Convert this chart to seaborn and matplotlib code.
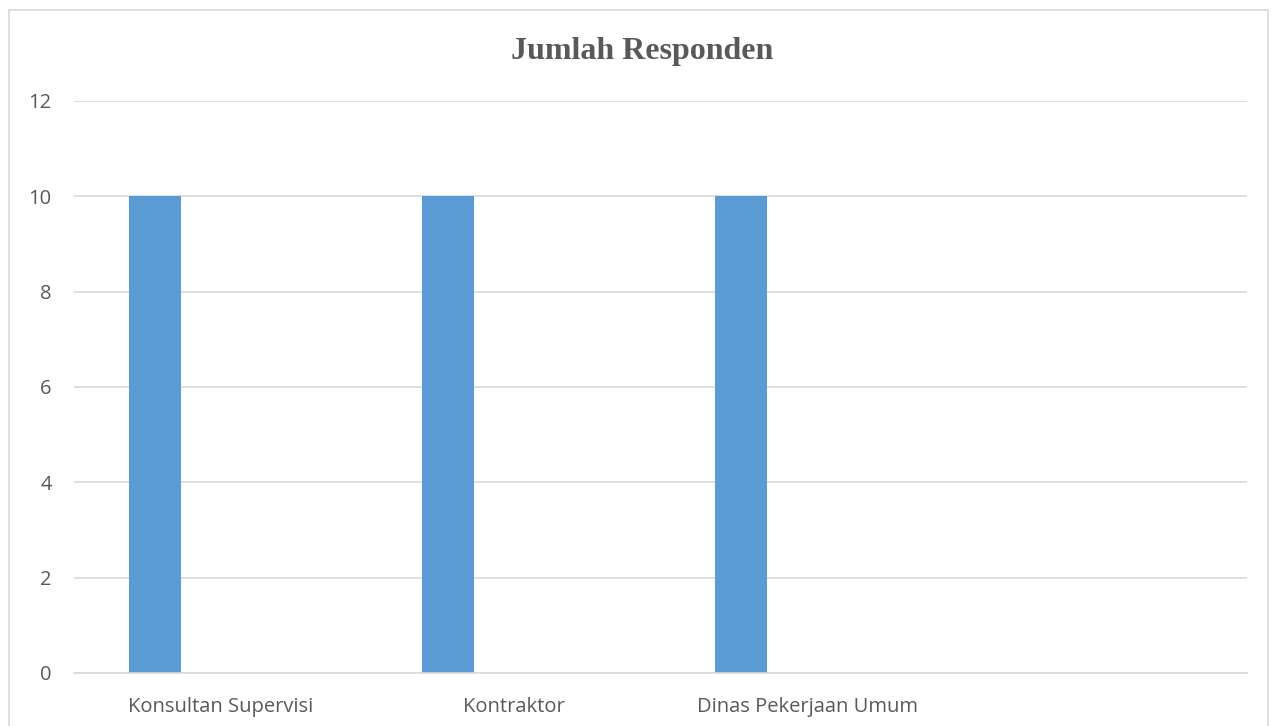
import numpy as np
import pandas as pd
import matplotlib
matplotlib.use("Agg")
import matplotlib.pyplot as plt
from matplotlib.patches import Rectangle
import seaborn as sns

# ---- data ----
categories = ["Konsultan Supervisi", "Kontraktor", "Dinas Pekerjaan Umum", ""]
series_names = ["Jumlah Responden", "Seri 2", "Seri 3"]
values_s1 = [10, 10, 10, 0]
values_s2 = [0, 0, 0, 0]
values_s3 = [0, 0, 0, 0]
y_ticks = [0, 2, 4, 6, 8, 10, 12]
title = "Jumlah Responden"

rows = []
for name, vals in zip(series_names, [values_s1, values_s2, values_s3]):
    for c, v in zip(categories, vals):
        rows.append({"cat": c, "series": name, "val": v})
df = pd.DataFrame(rows)

sns.set_theme(style="white")
plt.rcParams["font.family"] = ["Open Sans", "DejaVu Sans"]

W, H = 1276, 726
fig = plt.figure(figsize=(W / 100, H / 100), dpi=100)
ax = fig.add_axes([74 / W, (H - 673) / H, (1247 - 74) / W, (673 - 101) / H])

sns.barplot(data=df, x="cat", y="val", hue="series",
            order=categories, hue_order=series_names,
            palette=["#5B9BD5", "#ED7D31", "#A5A5A5"],
            width=0.672, gap=0.21, legend=False, ax=ax,
            saturation=1, errorbar=None, linewidth=0)

ax.set_xlim(-0.5, len(categories) - 0.5)
ax.set_ylim(0, 12)
ax.set_yticks(y_ticks)
ax.yaxis.grid(True, color="#D9D9D9", linewidth=1.2)
ax.set_axisbelow(True)
for s in ["top", "right", "left"]:
    ax.spines[s].set_visible(False)
ax.spines["bottom"].set_color("#D9D9D9")
ax.spines["bottom"].set_linewidth(1.2)
ax.tick_params(axis="both", length=0, labelsize=14.5, labelcolor="#595959")
ax.tick_params(axis="y", pad=16)
ax.tick_params(axis="x", pad=17)
ax.set_xlabel("")
ax.set_ylabel("")

fig.text(642 / W, 1 - 52 / H, title, ha="center", va="center",
         fontsize=23, fontweight="bold", color="#595959",
         family="Liberation Serif")

fig.patches.append(Rectangle((9 / W, -0.05), (1268 - 9) / W, 1.05 - 10 / H,
                             transform=fig.transFigure, fill=False,
                             edgecolor="#D9D9D9", linewidth=1.2))

fig.savefig("out.png", dpi=100)
